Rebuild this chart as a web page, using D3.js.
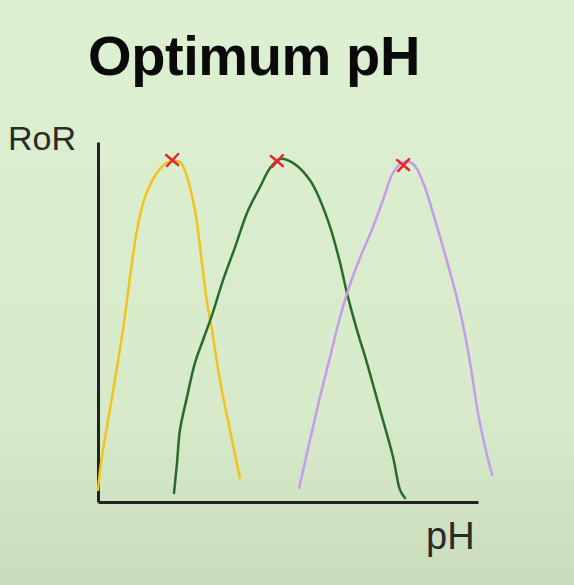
<!DOCTYPE html>
<meta charset="utf-8">
<html>
  <head>
    <title>Optimum pH</title>
    <script src="https://cdn.jsdelivr.net/npm/d3@7"></script>
    <style>
      body { margin: 0; padding: 0; }
    </style>
  </head>
  <body>
    <div id="chart"></div>
    <script type="text/javascript">
        /* hand drawn curves: [pH, RoR] */
        var yellow = [[0.00,3.3],[0.11,10.8],[0.52,29.2],[0.92,47.8],[1.25,66.4],[1.44,75.6],[1.73,84.7],
            [2.17,91.4],[2.58,94.4],[3.02,94.4],[3.28,90.3],[3.57,81.1],[3.68,75.6],[3.83,66.4],
            [4.02,55.3],[4.20,47.8],[4.49,33.9],[4.86,20.0],[5.23,6.7]];
        var green = [[2.80,2.5],[2.91,10.8],[3.02,20.0],[3.28,29.2],[3.57,38.6],[3.87,45.0],[4.20,51.9],
            [4.61,61.7],[5.05,70.8],[5.49,80.3],[5.97,87.5],[6.34,92.8],[6.71,95.3],[7.18,94.2],
            [7.81,89.4],[8.18,83.9],[8.55,76.4],[8.92,66.4],[9.17,58.1],[9.54,47.8],[9.91,38.6],
            [10.39,25.6],[10.87,12.5],[11.13,3.3],[11.31,1.1]];
        var purple = [[7.41,3.9],[7.81,17.2],[8.18,29.2],[8.55,40.3],[8.92,51.4],[9.28,60.3],[9.65,67.8],
            [10.06,75.0],[10.50,83.9],[10.87,91.4],[11.24,94.4],[11.61,93.9],[11.97,88.9],[12.34,80.3],
            [12.71,70.8],[13.08,60.8],[13.41,50.6],[13.71,38.6],[14.00,24.7],[14.26,15.3],[14.52,7.5]];
        var optima = [[2.73,95.0],[6.59,94.7],[11.24,93.6]];
        var curve_colors = ["#f3c21b", "#2b6b2a", "#c69bec"];

        var total_width = 574, total_height = 585;

        var svg = d3.select("#chart").append("svg")
            .attr("width", total_width)
            .attr("height", total_height);

        /* background */
        var grad = svg.append("defs").append("linearGradient")
            .attr("id", "bg").attr("x1", 0).attr("y1", 0).attr("x2", 0).attr("y2", 1);
        grad.append("stop").attr("offset", "0%").attr("stop-color", "#ddf0d1");
        grad.append("stop").attr("offset", "70%").attr("stop-color", "#d7ebcb");
        grad.append("stop").attr("offset", "100%").attr("stop-color", "#c9ddbd");
        svg.append("rect").attr("width", total_width).attr("height", total_height)
            .attr("fill", "url(#bg)");

        /* scales */
        var x = d3.scaleLinear().domain([0, 14]).range([98, 478]);
        var y = d3.scaleLinear().domain([0, 100]).range([502, 142]);

        /* title */
        svg.append("text")
            .attr("x", 254).attr("y", 75)
            .attr("text-anchor", "middle")
            .style("font-family", "'Liberation Sans', Arial, sans-serif")
            .style("font-weight", "bold")
            .style("font-size", "56px")
            .style("letter-spacing", "-0.4px")
            .style("fill", "#0a0a0a")
            .text("Optimum pH");

        /* axes */
        svg.append("g")
            .attr("transform", "translate(0," + y(0) + ")")
            .call(d3.axisBottom(x).ticks(0).tickSize(0).tickSizeOuter(0))
            .select(".domain").attr("stroke", "#222").attr("stroke-width", 3);
        svg.append("g")
            .attr("transform", "translate(" + x(0) + ",0)")
            .call(d3.axisLeft(y).ticks(0).tickSize(0).tickSizeOuter(0))
            .select(".domain").attr("stroke", "#222").attr("stroke-width", 3);

        svg.append("text")
            .attr("x", 8).attr("y", 150)
            .style("font-family", "'Liberation Sans', Arial, sans-serif")
            .style("font-size", "34px")
            .style("fill", "#2a2a2a")
            .text("RoR");
        svg.append("text")
            .attr("x", 426).attr("y", 549)
            .style("font-family", "'Liberation Sans', Arial, sans-serif")
            .style("font-size", "38px")
            .style("fill", "#2a2a2a")
            .text("pH");

        /* curves */
        var line = d3.line()
            .x(function(d){ return x(d[0]); })
            .y(function(d){ return y(d[1]); })
            .curve(d3.curveCatmullRom);

        svg.append("g").selectAll("path")
            .data([yellow, green, purple])
            .enter().append("path")
            .attr("d", line)
            .attr("fill", "none")
            .attr("stroke", function(d, i){ return curve_colors[i]; })
            .attr("stroke-width", 2.5)
            .attr("stroke-linecap", "round");

        /* red crosses at the optimum */
        var marks = svg.append("g").selectAll("g")
            .data(optima)
            .enter().append("g")
            .attr("transform", function(d){ return "translate(" + x(d[0]) + "," + y(d[1]) + ")"; });
        marks.append("path").attr("d", "M-6,-5L6,5M6,-6L-5,6")
            .attr("stroke", "#e8262a").attr("stroke-width", 2.5).attr("fill", "none")
            .attr("stroke-linecap", "round");
    </script>
  </body>
</html>
